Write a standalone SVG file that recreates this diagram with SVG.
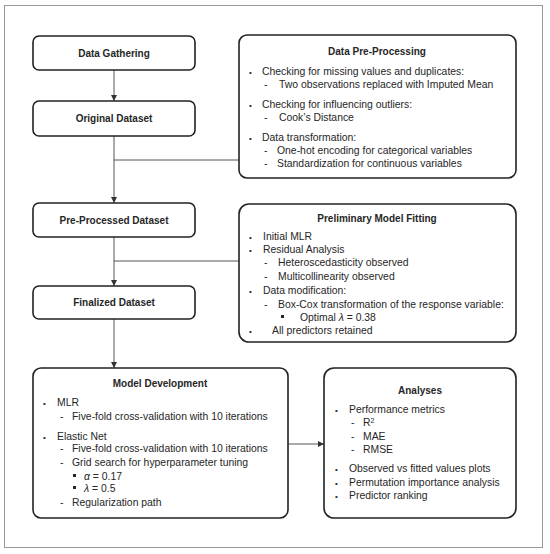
<svg xmlns="http://www.w3.org/2000/svg" width="550" height="554" viewBox="0 0 550 554">
<defs>
<marker id="ah" viewBox="0 0 8 8" refX="8" refY="4" markerWidth="6" markerHeight="6" orient="auto" markerUnits="userSpaceOnUse">
<path d="M0,0 L8,4 L0,8 Z" fill="#333"/>
</marker>
<style>
.box{fill:#fff;stroke:#222;stroke-width:1.6}
.frame{fill:#fff;stroke:#999;stroke-width:1}
.conn{fill:none;stroke:#555;stroke-width:1}
text{font-family:"Liberation Sans",Arial,sans-serif;fill:#262626;font-size:10.4px}
.h{font-weight:bold;text-anchor:middle;font-size:10px}
.b{font-size:8px}
.sq{fill:#262626}
</style>
</defs>
<rect class="frame" x="4.5" y="5.5" width="538" height="542"/>
<g id="connectors">
<line class="conn" x1="114" y1="70" x2="114" y2="101" marker-end="url(#ah)"/>
<line class="conn" x1="114" y1="136" x2="114" y2="203" marker-end="url(#ah)"/>
<line class="conn" x1="114" y1="160" x2="239" y2="160"/>
<line class="conn" x1="114" y1="237" x2="114" y2="286" marker-end="url(#ah)"/>
<line class="conn" x1="114" y1="261" x2="239" y2="261"/>
<line class="conn" x1="114" y1="319" x2="114" y2="368" marker-end="url(#ah)"/>
<line class="conn" x1="288" y1="444" x2="324" y2="444" marker-end="url(#ah)"/>
</g>
<g id="data-gathering">
<rect class="box" x="33" y="36" width="162" height="34" rx="6"/>
<text class="h" x="114" y="57">Data Gathering</text>
</g>
<g id="original-dataset">
<rect class="box" x="33" y="101" width="162" height="35" rx="6"/>
<text class="h" x="114" y="122">Original Dataset</text>
</g>
<g id="pre-processed-dataset">
<rect class="box" x="33" y="203" width="162" height="34" rx="6"/>
<text class="h" x="114" y="224">Pre-Processed Dataset</text>
</g>
<g id="finalized-dataset">
<rect class="box" x="33" y="286" width="162" height="33" rx="6"/>
<text class="h" x="114" y="306">Finalized Dataset</text>
</g>
<g id="data-pre-processing">
<rect class="box" x="239" y="35" width="277" height="143" rx="8"/>
<text class="h" x="377" y="55">Data Pre-Processing</text>
<text class="b" x="249" y="75">•</text><text x="262" y="75">Checking for missing values and duplicates:</text>
<text x="264" y="88">-</text><text x="279" y="88">Two observations replaced with Imputed Mean</text>
<text class="b" x="249" y="108">•</text><text x="262" y="108">Checking for influencing outliers:</text>
<text x="264" y="121">-</text><text x="279" y="121">Cook’s Distance</text>
<text class="b" x="249" y="141">•</text><text x="262" y="141">Data transformation:</text>
<text x="264" y="154">-</text><text x="277" y="154">One-hot encoding for categorical variables</text>
<text x="264" y="167">-</text><text x="277" y="167">Standardization for continuous variables</text>
</g>
<g id="preliminary-model-fitting">
<rect class="box" x="239" y="204" width="277" height="138" rx="10"/>
<text class="h" x="377" y="222">Preliminary Model Fitting</text>
<text class="b" x="249" y="240">•</text><text x="263" y="240">Initial MLR</text>
<text class="b" x="249" y="253">•</text><text x="263" y="253">Residual Analysis</text>
<text x="264" y="266">-</text><text x="278" y="266">Heteroscedasticity observed</text>
<text x="264" y="280">-</text><text x="278" y="280">Multicollinearity observed</text>
<text class="b" x="249" y="294">•</text><text x="263" y="294">Data modification:</text>
<text x="264" y="308">-</text><text x="278" y="308">Box-Cox transformation of the response variable:</text>
<rect class="sq" x="281" y="315" width="3" height="3"/><text x="300" y="321">Optimal <tspan font-style="italic">λ</tspan> = 0.38</text>
<text class="b" x="249" y="334">•</text><text x="272" y="334">All predictors retained</text>
</g>
<g id="model-development">
<rect class="box" x="33" y="368" width="255" height="150" rx="8"/>
<text class="h" x="160" y="387">Model Development</text>
<text class="b" x="43" y="406">•</text><text x="57" y="406">MLR</text>
<text x="60" y="420">-</text><text x="72" y="420">Five-fold cross-validation with 10 iterations</text>
<text class="b" x="43" y="440">•</text><text x="57" y="440">Elastic Net</text>
<text x="60" y="452">-</text><text x="72" y="452">Five-fold cross-validation with 10 iterations</text>
<text x="60" y="466">-</text><text x="72" y="466">Grid search for hyperparameter tuning</text>
<rect class="sq" x="73" y="474" width="3" height="3"/><text x="84" y="480"><tspan font-style="italic">α</tspan> = 0.17</text>
<rect class="sq" x="73" y="486" width="3" height="3"/><text x="84" y="492"><tspan font-style="italic">λ</tspan> = 0.5</text>
<text x="60" y="506">-</text><text x="72" y="506">Regularization path</text>
</g>
<g id="analyses">
<rect class="box" x="324" y="368" width="192" height="150" rx="10"/>
<text class="h" x="420" y="394">Analyses</text>
<text class="b" x="335" y="413">•</text><text x="349" y="413">Performance metrics</text>
<text x="351" y="426">-</text><text x="363" y="426">R<tspan font-size="7" dy="-3.5">2</tspan></text>
<text x="351" y="440">-</text><text x="363" y="440">MAE</text>
<text x="351" y="453">-</text><text x="363" y="453">RMSE</text>
<text class="b" x="335" y="472">•</text><text x="349" y="472">Observed vs fitted values plots</text>
<text class="b" x="335" y="486">•</text><text x="349" y="486">Permutation importance analysis</text>
<text class="b" x="335" y="499">•</text><text x="349" y="499">Predictor ranking</text>
</g>
</svg>
